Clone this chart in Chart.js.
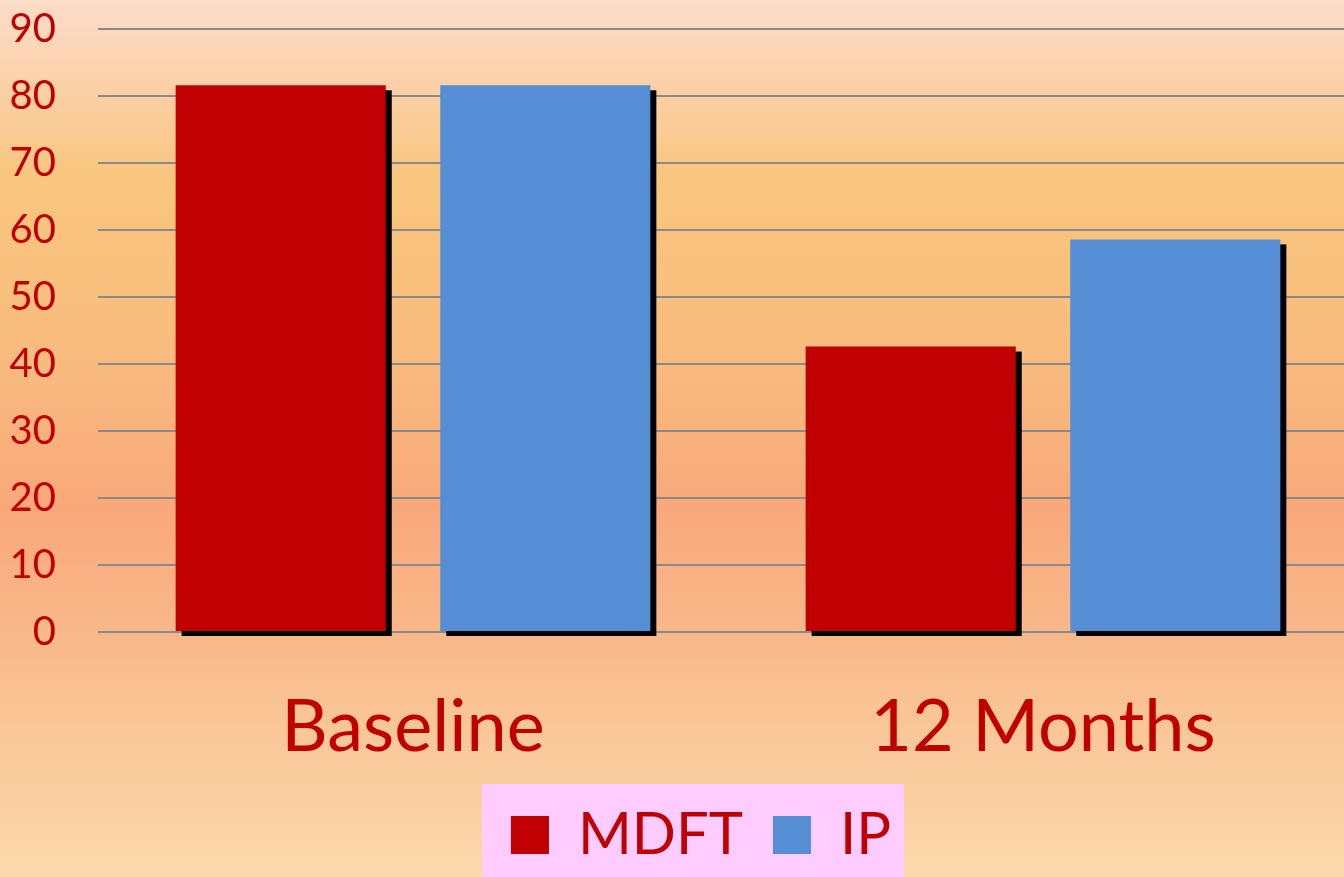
<!DOCTYPE html>
<html>
<head>
<meta charset="utf-8">
<script src="https://cdn.jsdelivr.net/npm/chart.js@4.4.1/dist/chart.umd.min.js"></script>
<style>
  html, body { margin: 0; padding: 0; width: 1344px; height: 877px; overflow: hidden; }
  body {
    background: linear-gradient(to bottom,
      #FCDCC8 0%, #FBD0A8 10%, #F9C67E 20%, #F9BC7E 40%, #F9A87A 58%, #F9B88A 72%, #FAC898 84%, #FBD9AC 100%);
  }
  #wrap { position: absolute; left: 0; top: 0; width: 1386px; height: 877px; }
</style>
</head>
<body>
<div id="wrap"><canvas id="c" width="1386" height="877"></canvas></div>
<script>
const categories = ['Baseline', '12 Months'];
const seriesNames = ['MDFT', 'IP'];
const mdftValues = [81.6, 42.6];
const ipValues = [81.6, 58.6];
const yTicks = [0, 10, 20, 30, 40, 50, 60, 70, 80, 90];

const RED = '#C00000';
const BLUE = '#558ED5';
const FONT = 'Lato';

// Solid black drop shadow behind every bar, offset down and to the right.
const barShadow = {
  id: 'barShadow',
  beforeDatasetsDraw(chart) {
    const ctx = chart.ctx;
    ctx.save();
    ctx.fillStyle = '#000';
    chart.data.datasets.forEach((ds, i) => {
      chart.getDatasetMeta(i).data.forEach(bar => {
        const p = bar.getProps(['x', 'y', 'base', 'width'], true);
        ctx.fillRect(p.x - p.width / 2 + 6, p.y + 5, p.width, p.base - p.y);
      });
    });
    ctx.restore();
  }
};

// Nudges the legend row to the right and paints a pink panel behind it.
const legendPanel = {
  id: 'legendPanel',
  afterLayout(chart) {
    const lg = chart.legend;
    if (!lg) return;
    lg.left += 19;
    lg.right += 19;
  },
  beforeDraw(chart) {
    const lg = chart.legend;
    if (!lg || !lg.legendHitBoxes || !lg.legendHitBoxes.length) return;
    const hb = lg.legendHitBoxes;
    const first = hb[0], last = hb[hb.length - 1];
    const ctx = chart.ctx;
    ctx.save();
    ctx.fillStyle = '#FFCCFF';
    const x0 = first.left - 29;
    const x1 = last.left + last.width + 13;
    const y0 = first.top - 22;
    ctx.fillRect(x0, y0, x1 - x0, chart.height - y0);
    ctx.restore();
  }
};

function build() {
  new Chart(document.getElementById('c'), {
    type: 'bar',
    data: {
      labels: categories,
      datasets: [
        { label: seriesNames[0], data: mdftValues, backgroundColor: RED, borderWidth: 0 },
        { label: seriesNames[1], data: ipValues, backgroundColor: BLUE, borderWidth: 0 }
      ]
    },
    options: {
      responsive: false,
      animation: false,
      devicePixelRatio: 1,
      layout: { padding: { left: 6, right: 28, top: 29, bottom: 3 } },
      datasets: { bar: { categoryPercentage: 0.84, barPercentage: 0.794 } },
      scales: {
        x: {
          grid: { display: false, drawTicks: false },
          border: { display: false },
          ticks: { color: RED, font: { family: FONT, size: 72 }, padding: 53 },
          afterFit(axis) {
            axis.height = 144;
            axis.paddingLeft = 0;
            axis.paddingRight = 0;
          }
        },
        y: {
          min: 0,
          max: 90,
          afterBuildTicks(axis) { axis.ticks = yTicks.map(v => ({ value: v })); },
          grid: { color: '#8A8A8A', lineWidth: 2, drawTicks: false },
          border: { display: false },
          ticks: { color: RED, font: { family: FONT, size: 40 }, padding: 42 },
          afterFit(axis) {
            axis.width = 92;
            axis.paddingTop = 0;
            axis.paddingBottom = 0;
          }
        }
      },
      plugins: {
        tooltip: { enabled: false },
        legend: {
          position: 'bottom',
          labels: {
            color: RED,
            font: { family: FONT, size: 58 },
            boxWidth: 38,
            boxHeight: 38,
            padding: 30
          }
        }
      }
    },
    plugins: [legendPanel, barShadow]
  });
}

Promise.all([
  document.fonts.load('72px Lato'),
  document.fonts.load('40px Lato'),
  document.fonts.load('58px Lato')
]).then(build, build);
</script>
</body>
</html>
